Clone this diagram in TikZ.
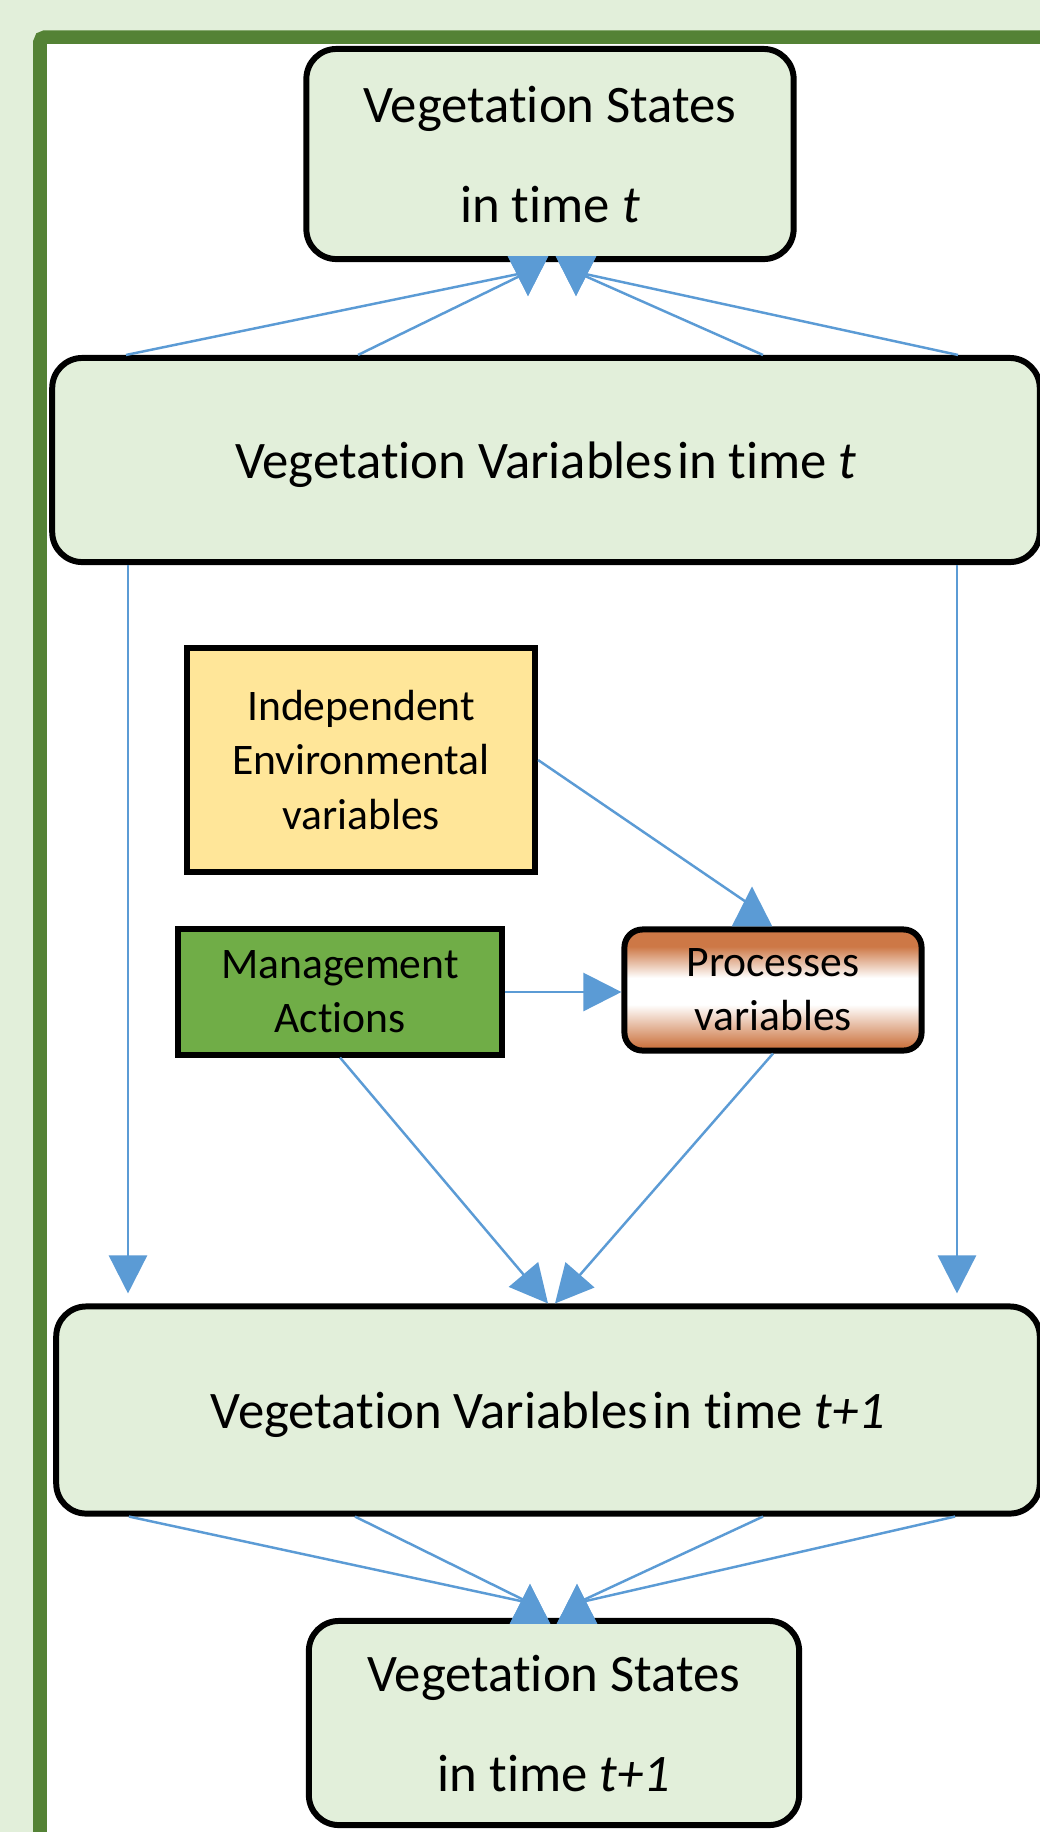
\documentclass[tikz,border=0pt]{standalone}
\usepackage{fontspec}
\setmainfont{Carlito}[Ligatures=NoCommon]
\usetikzlibrary{arrows.meta}
\definecolor{paleveg}{HTML}{E2EFDA}
\definecolor{framegreen}{HTML}{548235}
\definecolor{linkblue}{HTML}{5B9BD5}
\definecolor{envyellow}{HTML}{FFE699}
\definecolor{mgmtgreen}{HTML}{70AD47}
\definecolor{procorange}{RGB}{205,120,70}
\pgfdeclareverticalshading{procshade}{100bp}{color(0bp)=(procorange); color(27bp)=(procorange); color(44bp)=(white); color(55bp)=(white); color(68bp)=(procorange); color(100bp)=(procorange)}

\begin{document}
\begin{tikzpicture}[x=0.01cm,y=-0.01cm,
  bigbox/.style={draw,line width=1.7pt,fill=paleveg,rounded corners=0.3cm,align=center,inner sep=0pt,text depth=0pt,font=\fontsize{15}{28.5}\selectfont},
  smallbox/.style={draw,line width=1.7pt,align=center,inner sep=0pt,font=\fontsize{12.4}{15.4}\selectfont},
  flow/.style={draw=linkblue,line width=0.7pt},
  flowin/.style={flow,-{Triangle[length=0.38cm,width=0.38cm]}},
  flowback/.style={flow,-{Triangle[reversed,length=0.4cm,width=0.4cm]}}]
\useasboundingbox (0,0) rectangle (1040,1832);
\fill[paleveg] (0,0) rectangle (1040,1832);
\clip (0,0) rectangle (1040,1832);
\draw[framegreen,line width=3.84pt,fill=white,rounded corners=0.05cm] (40,37) rectangle (1100,1900);

\node[bigbox,minimum width=4.87cm,minimum height=2.1cm] (st) at (550,154) {Vegetation States\\in time \textit{t}};
\node[bigbox,minimum width=9.87cm,minimum height=2.04cm] (vt) at (546,460) {Vegetation Variables\hspace{0.08em}in time \textit{t}};
\node[smallbox,fill=envyellow,minimum width=3.48cm,minimum height=2.24cm] (ie) at (361,760) {Independent\\Environmental\\variables};
\node[smallbox,fill=mgmtgreen,minimum width=3.23cm,minimum height=1.25cm] (ma) at (340,992) {Management\\Actions};
\node[smallbox,shading=procshade,rounded corners=0.18cm,minimum width=2.97cm,minimum height=1.21cm] (pv) at (773,990) {Processes\\variables};
\node[bigbox,minimum width=9.83cm,minimum height=2.07cm] (vn) at (548,1410) {Vegetation Variables\hspace{0.08em}in time \textit{t+1}};
\node[bigbox,minimum width=4.9cm,minimum height=2.04cm] (sn) at (554,1723) {Vegetation States\\in time \textit{t+1}};

\coordinate (tl) at (528,272);
\coordinate (tr) at (576,272);
\foreach \x/\h in {126/tl,358/tl,763/tr,958/tr}
  \draw[flowback,shorten >=-0.06cm] (\x,0 |- vt.north) -- (\h) -- (\h |- st.south);

\foreach \x in {128,957}
  \draw[flowin,shorten >=0.1cm] (\x,0 |- vt.south) -- (\x,0 |- vn.north);

\coordinate (pt) at (752,906);
\draw[flowback] (ie.east) -- (pt) -- (pt |- pv.north);
\draw[flowin] (ma.east) -- (ma.east -| pv.west);
\draw[flowin] (ma.south) -- (548,0 |- vn.north);
\draw[flowin] (pv.south) -- (555,0 |- vn.north);

\coordinate (bl) at (530,1603);
\coordinate (br) at (577,1603);
\foreach \x/\h in {129/bl,355/bl,763/br,955/br}
  \draw[flowback,shorten >=-0.06cm] (\x,0 |- vn.south) -- (\h) -- (\h |- sn.north);
\end{tikzpicture}
\end{document}
